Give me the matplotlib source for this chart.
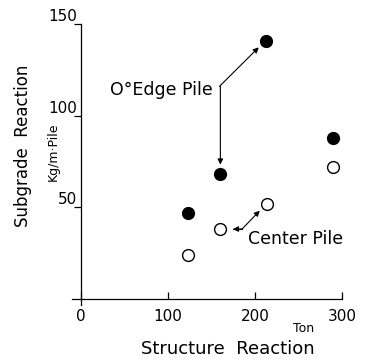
import matplotlib.pyplot as plt

# values
edge_x = [123, 160, 212, 289]
edge_y = [47, 68, 141, 88]
center_x = [123, 160, 213, 289]
center_y = [24, 38, 52, 72]

x_ticks = [0, 100, 200, 300]
y_ticks = [50, 100, 150]

W, H = 367, 359
fig = plt.figure(figsize=(W / 100, H / 100), dpi=100)
ax = fig.add_axes([72.3 / W, 54.5 / H, 270 / W, 280.5 / H])

ax.plot(edge_x, edge_y, 'o', color='black', ms=8.5)
ax.plot(center_x, center_y, 'o', mfc='white', mec='black', mew=1.0, ms=8.5)

ax.set_xlim(-10, 300)
ax.set_ylim(-3, 150)
for s in ['top', 'right']:
    ax.spines[s].set_visible(False)
ax.spines['left'].set_position(('data', 0))
ax.spines['bottom'].set_position(('data', 0))
ax.spines['left'].set_linewidth(0.9)
ax.spines['bottom'].set_linewidth(0.9)

ax.set_xticks(x_ticks)
ax.set_yticks(y_ticks)
ax.tick_params(axis='x', direction='in', length=5, width=0.9, pad=7, labelsize=11)
ax.tick_params(axis='y', direction='out', length=5, width=0.9, pad=-2, labelsize=11)
for lab in ax.get_yticklabels():
    lab.set_verticalalignment('bottom')

arrow = dict(arrowstyle='-|>', lw=0.8, color='black', mutation_scale=8, shrinkA=0)

# edge pile note
ax.text(151, 114, 'O°Edge Pile', ha='right', va='center', fontsize=12.5)
ax.annotate('', xy=(edge_x[2], edge_y[2]), xytext=(159, 116),
            arrowprops=dict(arrow, shrinkB=7))
ax.annotate('', xy=(edge_x[1], edge_y[1]), xytext=(160, 116),
            arrowprops=dict(arrow, shrinkB=7))

# center pile note
ax.text(192, 33, 'Center Pile', ha='left', va='center', fontsize=12.5)
ax.plot([174.7, 185], [38.2, 38.2], color='black', lw=0.8)
ax.annotate('', xy=(center_x[2], center_y[2]), xytext=(185, 38.2),
            arrowprops=dict(arrow, shrinkB=7))
ax.annotate('', xy=(center_x[1], center_y[1]), xytext=(185, 38.2),
            arrowprops=dict(arrow, shrinkB=9))

fig.text(23 / W, 1 - 146 / H, 'Subgrade  Reaction', rotation=90, ha='center', va='center', fontsize=12)
fig.text(53 / W, 1 - 152 / H, 'Kg/m·Pile', rotation=90, ha='center', va='center', fontsize=9)
fig.text(228 / W, 1 - 349 / H, 'Structure  Reaction', ha='center', va='center', fontsize=13)
fig.text(304 / W, 1 - 329 / H, 'Ton', ha='center', va='center', fontsize=9)

fig.savefig('out.png', dpi=100)
